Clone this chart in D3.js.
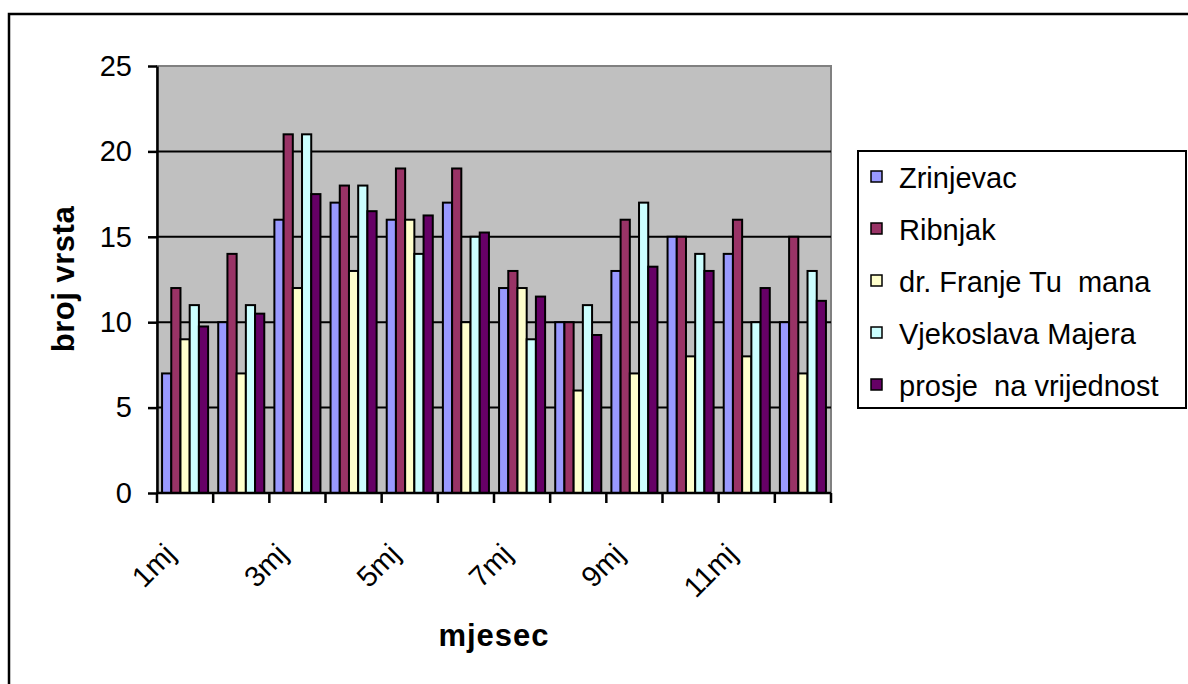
<!DOCTYPE html>
<html>
<head>
<meta charset="utf-8">
<script src="https://cdn.jsdelivr.net/npm/d3@7"></script>
<style>
  body { margin: 0; background: #fff; }
  text { font-family: Arial, "Liberation Sans", sans-serif; fill: #000; }
</style>
</head>
<body>
<div id="chart"></div>
<script>
// data
var months = ["1mj", "2mj", "3mj", "4mj", "5mj", "6mj", "7mj", "8mj", "9mj", "10mj", "11mj", "12mj"];
var seriesNames = ["Zrinjevac", "Ribnjak", "dr. Franje Tu  mana", "Vjekoslava Majera", "prosje  na vrijednost"];
var zrinjevac = [7, 10, 16, 17, 16, 17, 12, 10, 13, 15, 14, 10];
var ribnjak = [12, 14, 21, 18, 19, 19, 13, 10, 16, 15, 16, 15];
var tudmana = [9, 7, 12, 13, 16, 10, 12, 6, 7, 8, 8, 7];
var majera = [11, 11, 21, 18, 14, 15, 9, 11, 17, 14, 10, 13];
var prosjek = [9.75, 10.5, 17.5, 16.5, 16.25, 15.25, 11.5, 9.25, 13.25, 13, 12, 11.25];
var yTicks = [0, 5, 10, 15, 20, 25];
var shownLabels = ["1mj", "3mj", "5mj", "7mj", "9mj", "11mj"];

var colors = ["#9999FF", "#993366", "#FFFFCC", "#CCFFFF", "#660066"];

function drawChart(divId, w, h) {
  var series = [zrinjevac, ribnjak, tudmana, majera, prosjek];
  var rows = months.map((m, i) => ({month: m, values: series.map(s => s[i])}));

  var svg = d3.select(divId).append("svg")
    .attr("width", w)
    .attr("height", h);

  // outer chart border (right / bottom run off the picture)
  svg.append("rect")
    .attr("x", 9).attr("y", 14)
    .attr("width", w + 50).attr("height", h + 50)
    .attr("fill", "#fff")
    .attr("stroke", "#000")
    .attr("stroke-width", 2.5);

  var plot = {left: 157, right: 831, top: 66, bottom: 493};

  var x0 = d3.scaleBand()
    .domain(months)
    .range([plot.left, plot.right]);
  var bw = x0.bandwidth();
  var x1 = d3.scaleBand()
    .domain(d3.range(seriesNames.length))
    .range([bw * 0.09, bw * 0.91]);
  var y = d3.scaleLinear()
    .domain([0, 25])
    .range([plot.bottom, plot.top]);

  // plot background
  svg.append("rect")
    .attr("x", plot.left).attr("y", plot.top)
    .attr("width", plot.right - plot.left)
    .attr("height", plot.bottom - plot.top)
    .attr("fill", "#C0C0C0")
    .attr("stroke", "#808080")
    .attr("stroke-width", 2);

  // gridlines
  svg.append("g").selectAll("line")
    .data(yTicks.filter(t => t > 0 && t < 25))
    .enter().append("line")
    .attr("x1", plot.left).attr("x2", plot.right)
    .attr("y1", d => y(d)).attr("y2", d => y(d))
    .attr("stroke", "#000")
    .attr("stroke-width", 2);

  // bars
  var groups = svg.append("g").selectAll("g")
    .data(rows)
    .enter().append("g")
    .attr("transform", d => "translate(" + x0(d.month) + ",0)");
  groups.selectAll("rect")
    .data(d => d.values)
    .enter().append("rect")
    .attr("x", (d, i) => x1(i))
    .attr("width", x1.bandwidth())
    .attr("y", d => y(d))
    .attr("height", d => y(0) - y(d))
    .attr("fill", (d, i) => colors[i])
    .attr("stroke", "#000")
    .attr("stroke-width", 2);

  // y axis
  var yAxis = svg.append("g")
    .attr("transform", "translate(" + plot.left + ",0)")
    .call(d3.axisLeft(y).tickValues(yTicks).tickSize(9).tickPadding(16).tickSizeOuter(0));
  yAxis.select(".domain").attr("stroke-width", 2.5);
  yAxis.selectAll(".tick line").attr("stroke-width", 2.5);
  yAxis.selectAll("text")
    .attr("font-size", 29)
    .attr("font-family", "Arial, 'Liberation Sans', sans-serif")
    .attr("fill", "#000");

  // x axis: ticks between categories, labels on every other month
  var xg = svg.append("g");
  xg.append("line")
    .attr("x1", plot.left).attr("x2", plot.right)
    .attr("y1", plot.bottom).attr("y2", plot.bottom)
    .attr("stroke", "#000")
    .attr("stroke-width", 2.5);
  xg.selectAll(".xtick")
    .data(months.map(m => x0(m)).concat([plot.right]))
    .enter().append("line")
    .attr("class", "xtick")
    .attr("x1", d => d).attr("x2", d => d)
    .attr("y1", plot.bottom).attr("y2", plot.bottom + 10)
    .attr("stroke", "#000")
    .attr("stroke-width", 2.5);
  xg.selectAll(".xlabel")
    .data(shownLabels)
    .enter().append("text")
    .attr("class", "xlabel")
    .attr("transform", d => "translate(" + (x0(d) + bw / 2 - 8) + "," + 556 + ") rotate(-45)")
    .attr("text-anchor", "end")
    .attr("font-size", 29)
    .text(d => d);

  // axis titles
  svg.append("text")
    .attr("x", (plot.left + plot.right) / 2)
    .attr("y", 646)
    .attr("text-anchor", "middle")
    .attr("font-size", 31)
    .attr("font-weight", "bold")
    .attr("letter-spacing", 1)
    .text("mjesec");
  svg.append("text")
    .attr("transform", "translate(74,279) rotate(-90)")
    .attr("text-anchor", "middle")
    .attr("font-size", 31)
    .attr("font-weight", "bold")
    .attr("letter-spacing", 0.5)
    .text("broj vrsta");

  // legend
  var legend = svg.append("g");
  legend.append("rect")
    .attr("x", 858).attr("y", 151)
    .attr("width", 328).attr("height", 257)
    .attr("fill", "#fff")
    .attr("stroke", "#000")
    .attr("stroke-width", 2);
  var items = legend.selectAll(".item")
    .data(seriesNames)
    .enter().append("g")
    .attr("class", "item")
    .attr("transform", (d, i) => "translate(0," + (188 + i * 52) + ")");
  items.append("rect")
    .attr("x", 871).attr("y", -17)
    .attr("width", 11).attr("height", 11)
    .attr("fill", (d, i) => colors[i])
    .attr("stroke", "#000")
    .attr("stroke-width", 1.5);
  items.append("text")
    .attr("x", 899).attr("y", 0)
    .attr("font-size", 29)
    .style("white-space", "pre")
    .text(d => d);
}

drawChart("#chart", 1188, 684);
</script>
</body>
</html>
